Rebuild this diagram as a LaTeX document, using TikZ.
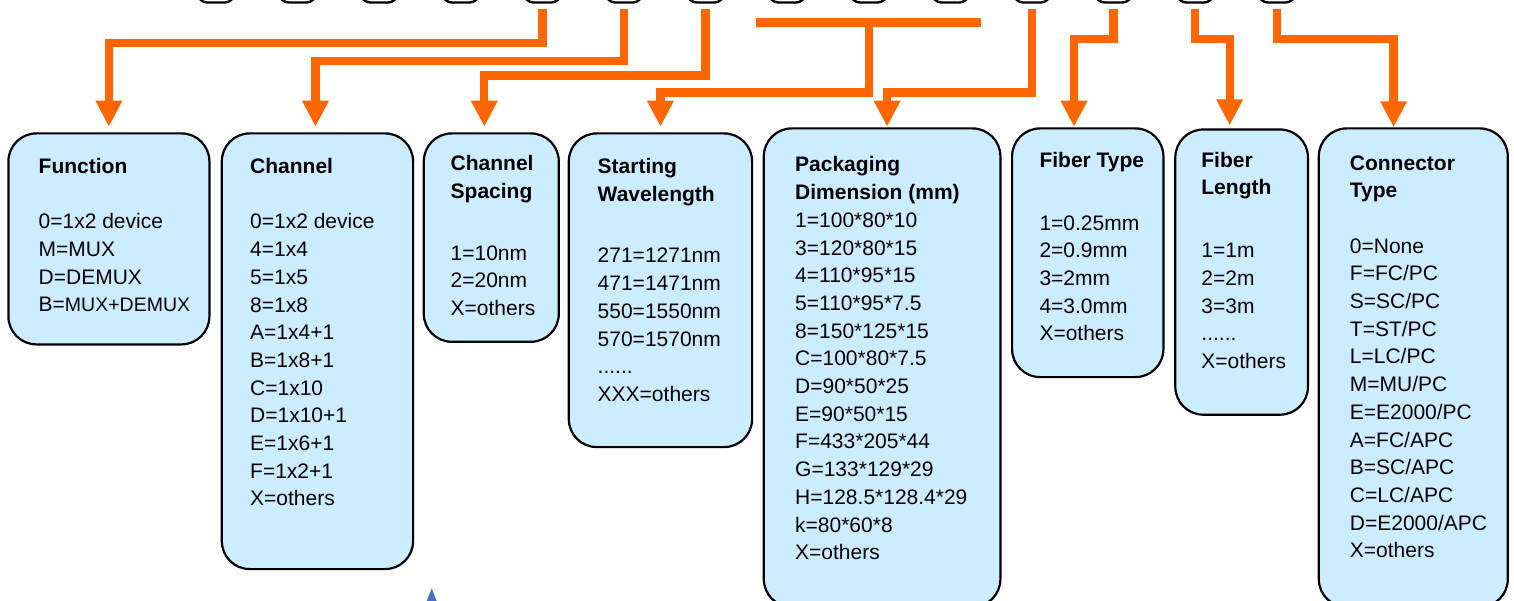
\documentclass[tikz,border=0pt]{standalone}
\usepackage{fontspec}
\setmainfont{Liberation Sans}
\usetikzlibrary{arrows.meta}
\definecolor{org}{RGB}{255,102,0}
\definecolor{boxfill}{RGB}{204,236,255}
\definecolor{triblue}{RGB}{68,114,196}
\begin{document}
\begin{tikzpicture}[x=1pt,y=-1pt,
  box/.style={draw=black, line width=2.2pt, fill=boxfill, rounded corners=28pt, inner sep=0pt, anchor=north west},
  capbox/.style={draw=black, line width=2.4pt, fill=white, rounded corners=9pt, minimum width=36pt, minimum height=33pt, inner sep=0pt},
  txt/.style={anchor=north west, inner sep=0pt, align=left, font=\fontsize{21}{27.7}\selectfont},
  conn/.style={draw=org, line width=8.3pt, line join=miter},
  fromcap/.style={shorten <=5pt},
  arr/.style={conn, -{Triangle[width=25pt,length=26pt]}},
]
\useasboundingbox (0,0) rectangle (1514,601);
\clip (0,0) rectangle (1514,601);

% code boxes cut by the top edge
\foreach \i in {1,...,14}
  \node[capbox] (s\i) at ({216+81.6*(\i-1)}, -14) {};

% description boxes
\node[box, minimum width=201pt, minimum height=211pt] (fn) at (7.3,132.3) {};
\node[box, minimum width=191.3pt, minimum height=435.7pt] (ch) at (220.7,132.3) {};
\node[box, minimum width=135pt, minimum height=208.4pt] (sp) at (422.7,132.3) {};
\node[box, minimum width=183.3pt, minimum height=313.7pt] (wl) at (567.7,132.3) {};
\node[box, minimum width=236.6pt, minimum height=478.7pt] (pk) at (762.7,127.3) {};
\node[box, minimum width=151.3pt, minimum height=248.7pt] (ft) at (1011,127.3) {};
\node[box, minimum width=132.7pt, minimum height=285.2pt] (fl) at (1174.2,128.4) {};
\node[box, minimum width=189pt, minimum height=478.7pt] (ct) at (1317.7,127.3) {};

% texts
\node[txt] (fnt) at (38.5,153.3) {\rule{0pt}{20pt}\textbf{Function}\\[27.7pt]
  0=1x2 device\\ M=MUX\\ D=DEMUX\\ B={\fontsize{19.5}{27.7}\selectfont MUX+DEMUX}};
\node[txt] (cht) at (250,153.3) {\rule{0pt}{20pt}\textbf{Channel}\\[27.7pt]
  0=1x2 device\\ 4=1x4\\ 5=1x5\\ 8=1x8\\ A=1x4+1\\ B=1x8+1\\ C=1x10\\ D=1x10+1\\ E=1x6+1\\ F=1x2+1\\ X=others};
\node[txt] (spt) at (450.5,150.7) {\rule{0pt}{20pt}\textbf{Channel}\\ \textbf{Spacing}\\[34pt]
  1=10nm\\ 2=20nm\\ X=others};
\node[txt] (wlt) at (597.5,153.3) {\rule{0pt}{20pt}\textbf{Starting}\\ \textbf{Wavelength}\\[34pt]
  271=1271nm\\ 471=1471nm\\ 550=1550nm\\ 570=1570nm\\ ......\\ XXX=others};
\node[txt] (pkt) at (795,151.7) {\rule{0pt}{20pt}\textbf{Packaging}\\ \textbf{Dimension (mm)}\\
  1=100*80*10\\ 3=120*80*15\\ 4=110*95*15\\ 5=110*95*7.5\\ 8=150*125*15\\ C=100*80*7.5\\ D=90*50*25\\ E=90*50*15\\ F=433*205*44\\ G=133*129*29\\ H=128.5*128.4*29\\ k=80*60*8\\ X=others};
\node[txt] (ftt) at (1039.3,147.3) {\rule{0pt}{20pt}\textbf{Fiber Type}\\[35pt]
  1=0.25mm\\ 2=0.9mm\\ 3=2mm\\ 4=3.0mm\\ X=others};
\node[txt] (flt) at (1201.2,147.1) {\rule{0pt}{20pt}\textbf{Fiber}\\ \textbf{Length}\\[35pt]
  1=1m\\ 2=2m\\ 3=3m\\ ......\\ X=others};
\node[txt] (ctt) at (1349.7,149.8) {\rule{0pt}{20pt}\textbf{Connector}\\ \textbf{Type}\\[27.7pt]
  0=None\\ F=FC/PC\\ S=SC/PC\\ T=ST/PC\\ L=LC/PC\\ M=MU/PC\\ E=E2000/PC\\ A=FC/APC\\ B=SC/APC\\ C=LC/APC\\ D=E2000/APC\\ X=others};

% levels and targets
\coordinate (h1) at (0,43.3);
\coordinate (h2) at (0,60.8);
\coordinate (h3) at (0,75.5);
\coordinate (h4) at (0,92.5);
\coordinate (h6) at (0,39);
\coordinate (tch) at ([xshift=-2pt]ch.north);
\coordinate (tsp) at ([xshift=-7pt]sp.north);
\coordinate (tpk) at ([xshift=5pt]pk.north);
\coordinate (tft) at ([xshift=-13.7pt]ft.north);
\coordinate (tfl) at ([xshift=-12pt]fl.north);
\coordinate (tct) at ([xshift=-19.7pt]ct.north);
\coordinate (tL) at (756,22.5);
\coordinate (tR) at (981,22.5);
\coordinate (tM) at (869,22.5);

% connectors
\draw[arr, fromcap, shorten >=5.6pt] (s5.south) |- (fn.north |- h1) -- (fn.north);
\draw[arr, fromcap, shorten >=5.6pt] (s6.south) |- (tch |- h2) -- (tch);
\draw[arr, fromcap, shorten >=5.6pt] (s7.south) |- (tsp |- h3) -- (tsp);
\draw[conn] (tL) -- (tR);
\draw[arr, shorten >=5.6pt] (tM) |- (wl.north |- h4) -- (wl.north);
\draw[arr, fromcap, shorten >=0.6pt] (s11.south) |- (tpk |- h4) -- (tpk);
\draw[arr, fromcap, shorten >=0.6pt] (s12.south) |- (tft |- h6) -- (tft);
\draw[arr, fromcap, shorten >=3pt] (s13.south) |- (tfl |- h6) -- (tfl);
\draw[arr, fromcap] (s14.south) |- (tct |- h6) -- (tct);

% small blue mark at the bottom
\fill[triblue] (426.7,601) -- (431.7,588.3) -- (436.7,601) -- cycle;
\end{tikzpicture}
\end{document}
